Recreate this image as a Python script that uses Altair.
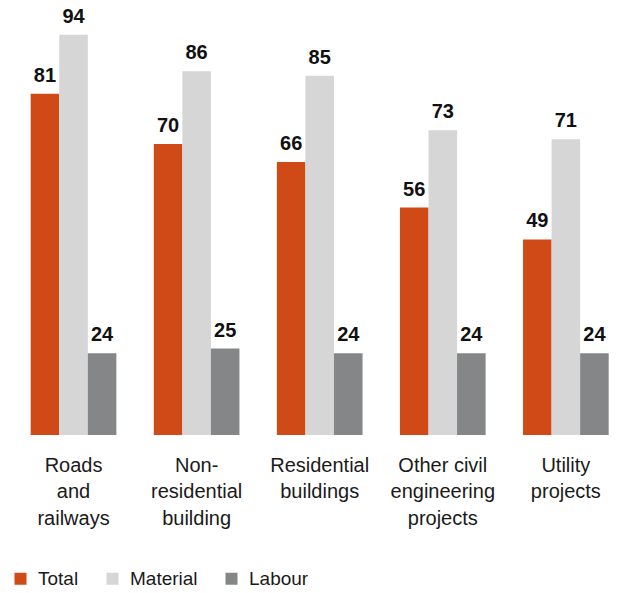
import altair as alt
import pandas as pd

categories = [
    "Roads|and|railways",
    "Non-|residential|building",
    "Residential|buildings",
    "Other civil|engineering|projects",
    "Utility|projects",
]
series = ["Total", "Material", "Labour"]
total = [81, 70, 66, 56, 49]
material = [94, 86, 85, 73, 71]
labour = [24, 25, 24, 24, 24]
colors = ["#D04A17", "#D5D6D5", "#858687"]

rows = []
for i, c in enumerate(categories):
    for s, vals in zip(series, [total, material, labour]):
        rows.append({"category": c, "series": s, "value": vals[i]})
df = pd.DataFrame(rows)

FONT = "Liberation Sans"

base = alt.Chart(df).encode(
    x=alt.X(
        "category:N",
        sort=categories,
        scale=alt.Scale(range=[0, 615.4], paddingInner=0.304, paddingOuter=0.152),
        axis=alt.Axis(
            title=None,
            labelExpr="split(datum.label, '|')",
            labelAngle=0,
            labelFontSize=20,
            labelFont=FONT,
            labelColor="#1a1a1a",
            labelLineHeight=26.5,
            labelPadding=20,
            ticks=False,
            domain=False,
            grid=False,
        ),
    ),
    xOffset=alt.XOffset("series:N", sort=series, scale=alt.Scale(paddingInner=0, paddingOuter=0)),
    y=alt.Y("value:Q", scale=alt.Scale(domain=[6, 99], zero=False, nice=False), axis=None),
)

bars = base.mark_bar().encode(
    y2=alt.datum(6),
    color=alt.Color(
        "series:N",
        sort=series,
        scale=alt.Scale(domain=series, range=colors),
        legend=alt.Legend(
            title=None,
            orient="none",
            legendX=-1,
            legendY=557,
            direction="horizontal",
            symbolType="square",
            symbolSize=144,
            symbolStrokeWidth=0,
            symbolOpacity=1,
            labelFontSize=19,
            labelFont=FONT,
            labelColor="#1a1a1a",
            labelOffset=8,
            columnPadding=24,
            padding=0,
        ),
    ),
)

labels = base.mark_text(
    dy=-12, baseline="alphabetic", fontSize=20, fontWeight="bold", font=FONT, color="#111111"
).encode(text="value:Q")

chart = (
    alt.layer(bars, labels)
    .properties(
        width=597,
        height=423,
        autosize=alt.AutoSizeParams(type="none"),
        padding={"left": 4, "top": 4, "right": 0, "bottom": 150},
    )
    .configure_view(stroke=None)
)

chart.save("out.html", embed_options={"renderer": "svg", "actions": False})
